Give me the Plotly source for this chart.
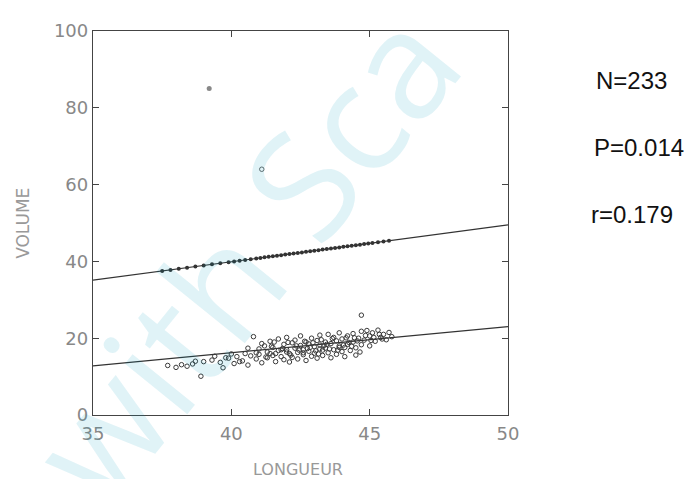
import plotly.graph_objects as go

# ---- data ----
x_ticks = [35, 40, 45, 50]
y_ticks = [0, 20, 40, 60, 80, 100]

lower_x = [37.7, 38.0, 38.2, 38.4, 38.6, 38.9, 39.0, 39.3, 39.6, 39.7, 39.9, 40.1, 40.2, 40.4,
           40.5, 40.6, 40.7, 40.8, 40.9, 41.0, 41.0, 41.1, 41.2, 41.3, 41.3, 41.4, 41.5, 41.5,
           41.6, 41.7, 41.7, 41.8, 41.9, 41.9, 42.0, 42.0, 42.1, 42.1, 42.2, 42.2, 42.3, 42.3,
           42.4, 42.4, 42.5, 42.5, 42.6, 42.6, 42.7, 42.7, 42.8, 42.8, 42.9, 42.9, 43.0, 43.0,
           43.1, 43.1, 43.2, 43.2, 43.3, 43.3, 43.4, 43.4, 43.5, 43.5, 43.6, 43.6, 43.7, 43.7,
           43.8, 43.8, 43.9, 43.9, 44.0, 44.0, 44.1, 44.1, 44.2, 44.2, 44.3, 44.4, 44.4, 44.5,
           44.5, 44.6, 44.7, 44.7, 44.7, 44.8, 44.9, 45.0, 45.0, 45.1, 45.2, 45.3, 45.4, 45.5,
           45.6, 45.7, 45.8, 41.4, 42.0, 42.6, 43.2, 43.9, 40.3, 41.8,
           40.6, 40.9, 41.1, 41.25, 41.45, 41.6, 41.85, 42.05, 42.15, 42.35, 42.45, 42.65,
           42.75, 42.95, 43.05, 43.25, 43.35, 43.55, 43.65, 43.85, 44.05, 44.15, 44.35, 44.55,
           44.65, 44.85, 45.05, 45.15, 45.35, 45.45, 39.4, 39.8, 40.0, 38.7, 41.55, 42.85,
           43.45, 44.25, 44.45, 43.15]
lower_y = [12.9, 12.4, 13.1, 12.7, 13.3, 10.1, 13.9, 14.3, 13.7, 12.3, 14.8, 13.4, 15.2, 14.1,
           16.0, 13.0, 15.4, 20.4, 14.6, 17.2, 15.8, 13.6, 18.0, 16.4, 14.9, 19.2, 15.5, 17.6,
           13.9, 16.8, 19.8, 15.2, 18.4, 14.4, 17.0, 20.2, 16.0, 13.8, 18.8, 15.0, 17.4, 19.5,
           16.3, 14.6, 18.1, 20.6, 15.7, 17.0, 19.0, 14.2, 16.6, 18.5, 20.0, 15.3, 17.8, 16.1,
           19.4, 14.8, 18.2, 20.8, 16.9, 15.5, 19.0, 17.4, 21.0, 16.2, 18.6, 14.9, 20.2, 17.0,
           15.8, 19.3, 18.0, 21.4, 16.5, 19.8, 17.6, 15.2, 20.6, 18.4, 16.8, 19.0, 21.2, 17.5,
           15.6, 20.0, 18.3, 21.8, 26.0, 19.5, 22.0, 20.6, 18.0, 21.4, 19.2, 22.1, 20.2, 21.0,
           19.6, 21.5, 20.4, 16.0, 16.4, 16.2, 17.2, 17.6, 13.9, 17.0,
           17.4, 16.2, 18.6, 15.1, 17.9, 16.0, 17.3, 18.9, 15.6, 18.0, 16.9, 19.2,
           17.3, 18.8, 16.7, 19.6, 18.1, 17.2, 19.9, 16.9, 18.2, 20.1, 17.9, 19.3,
           16.4, 20.7, 19.4, 20.2, 21.0, 19.8, 15.3, 14.9, 15.9, 14.0, 19.0, 17.6,
           18.4, 18.9, 20.1, 15.9]

upper_x = [37.5, 37.8, 38.1, 38.4, 38.7, 39.0, 39.3, 39.6, 39.9, 40.1, 40.3, 40.5, 40.7, 40.9,
           41.05, 41.2, 41.35, 41.5, 41.65, 41.8, 41.95, 42.1, 42.25, 42.4, 42.55, 42.7, 42.85,
           43.0, 43.15, 43.3, 43.45, 43.6, 43.75, 43.9, 44.05, 44.2, 44.35, 44.5, 44.65, 44.8,
           44.95, 45.1, 45.3, 45.5, 45.7]
upper_y = [37.50, 37.79, 38.08, 38.36, 38.65, 38.94, 39.23, 39.52, 39.80, 40.00, 40.19, 40.38,
           40.57, 40.76, 40.91, 41.05, 41.20, 41.34, 41.48, 41.63, 41.77, 41.92, 42.06, 42.20,
           42.35, 42.49, 42.64, 42.78, 42.92, 43.07, 43.21, 43.36, 43.50, 43.64, 43.79, 43.93,
           44.08, 44.22, 44.36, 44.51, 44.65, 44.80, 44.99, 45.18, 45.37]

outlier_x = [39.2, 41.1]
outlier_y = [85, 64]

line_x = [35, 50]
upper_line_y = [35.1, 49.5]
lower_line_y = [12.8, 23.0]

stats = ["N=233", "P=0.014", "r=0.179"]
x_title = "LONGUEUR"
y_title = "VOLUME"
watermark = "with Sca"

# ---- figure ----
fig = go.Figure()

fig.add_trace(go.Scatter(x=line_x, y=upper_line_y, mode="lines",
                         line=dict(color="#333", width=1.2), showlegend=False))
fig.add_trace(go.Scatter(x=line_x, y=lower_line_y, mode="lines",
                         line=dict(color="#333", width=1.2), showlegend=False))
fig.add_trace(go.Scatter(x=upper_x, y=upper_y, mode="markers",
                         marker=dict(symbol="circle", size=4, color="#333"), showlegend=False))
fig.add_trace(go.Scatter(x=lower_x, y=lower_y, mode="markers",
                         marker=dict(symbol="circle-open", size=4.5, color="#3a3a3a",
                                     line=dict(width=1, color="#3a3a3a")), showlegend=False))
fig.add_trace(go.Scatter(x=outlier_x[:1], y=outlier_y[:1], mode="markers",
                         marker=dict(symbol="circle", size=5, color="#888"), showlegend=False))
fig.add_trace(go.Scatter(x=outlier_x[1:], y=outlier_y[1:], mode="markers",
                         marker=dict(symbol="circle-open", size=4.5, color="#666",
                                     line=dict(width=1, color="#666")), showlegend=False))

axis_common = dict(showgrid=False, zeroline=False, showline=True, linecolor="#444", linewidth=1.3,
                   mirror="ticks", ticks="inside", ticklen=6, tickcolor="#444", tickwidth=1,
                   tickfont=dict(family="DejaVu Sans", size=18, color="#888"))

fig.update_xaxes(range=[35, 50], tickvals=x_ticks, ticktext=[str(v) for v in x_ticks],
                 ticklabelstandoff=2, **axis_common)
fig.update_yaxes(range=[0, 100], tickvals=y_ticks, ticktext=[str(v) for v in y_ticks],
                 **axis_common)

annotations = []
stat_y = [0.872, 0.697, 0.523]
stat_x = [1.207, 1.203, 1.196]
for txt, xx, yy in zip(stats, stat_x, stat_y):
    annotations.append(dict(text=txt, xref="paper", yref="paper", x=xx, y=yy,
                            xanchor="left", yanchor="middle", showarrow=False,
                            font=dict(family="Liberation Sans", size=24, color="#111")))
annotations.append(dict(text=x_title, xref="paper", yref="paper", x=0.494, y=-0.141,
                        xanchor="center", yanchor="middle", showarrow=False,
                        font=dict(family="DejaVu Sans", size=16, color="#999")))
annotations.append(dict(text=y_title, xref="paper", yref="paper", x=-0.169, y=0.5,
                        xanchor="center", yanchor="middle", showarrow=False, textangle=-90,
                        font=dict(family="DejaVu Sans", size=17, color="#999")))
annotations.append(dict(text=watermark, xref="paper", yref="paper", x=0.36, y=0.42,
                        xanchor="center", yanchor="middle", showarrow=False, textangle=-51,
                        font=dict(family="Open Sans", size=150, color="rgba(0,160,190,0.12)")))

# the page body adds an 8px offset; margins compensate so the plot area lands where the reference has it
fig.update_layout(width=692, height=479, margin=dict(l=85, r=192, t=17, b=72),
                  paper_bgcolor="white", plot_bgcolor="white", annotations=annotations)

fig.write_html("out.html")
